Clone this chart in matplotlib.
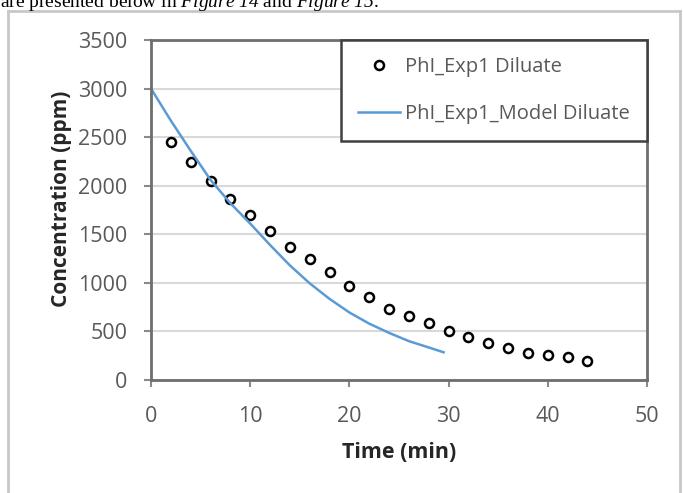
import matplotlib
matplotlib.use('Agg')
import matplotlib.pyplot as plt
from matplotlib.lines import Line2D

plt.rcParams['mathtext.fontset'] = 'custom'
plt.rcParams['mathtext.it'] = 'Liberation Serif:italic'
plt.rcParams['mathtext.rm'] = 'Liberation Serif:italic'

# measured diluate concentration, every 2 min
time_exp = [2, 4, 6, 8, 10, 12, 14, 16, 18, 20, 22, 24, 26, 28, 30,
            32, 34, 36, 38, 40, 42, 44]
conc_exp = [2450, 2240, 2050, 1860, 1700, 1530, 1370, 1250, 1110, 970, 850,
            730, 660, 590, 500, 445, 380, 330, 280, 260, 235, 195]

# model prediction for the same run
time_model = [0, 2, 4, 6, 8, 10, 12, 14, 16, 18, 20, 22, 24, 26, 28, 29.5]
conc_model = [3000, 2670, 2360, 2060, 1820, 1610, 1390, 1180, 995, 835, 695,
              580, 485, 400, 335, 285]

xticks = [0, 10, 20, 30, 40, 50]
yticks = [0, 500, 1000, 1500, 2000, 2500, 3000, 3500]

W, H = 683, 493
fig = plt.figure(figsize=(W / 100, H / 100), dpi=100)
fig.patch.set_facecolor('white')

# page border around the chart
border = dict(color='#c8c8c8', lw=2, transform=fig.transFigure)
fig.add_artist(Line2D([8 / W, 8 / W], [0, 1 - 11 / H], **border))
fig.add_artist(Line2D([8 / W, 680 / W], [1 - 11 / H, 1 - 11 / H], **border))
fig.add_artist(Line2D([680 / W, 680 / W], [0, 1 - 11 / H], **border))

# caption text running off the top of the page
fig.text(0 / W, 1 - 7 / H, 'are presented below in $\\mathit{Figure\\ 14}$ and $\\mathit{Figure\\ 15}$.',
         family='Liberation Serif', fontsize=14, va='baseline', ha='left', color='black')

ax = fig.add_axes([151 / W, 1 - 380 / H, 496 / W, 340 / H])
ax.set_xlim(0, 50)
ax.set_ylim(0, 3500)
ax.set_xticks(xticks)
ax.set_yticks(yticks)
ax.grid(axis='y', color='#d9d9d9', lw=1.5)
ax.set_axisbelow(True)

for s in ax.spines.values():
    s.set_color('#6e6e6e')
    s.set_linewidth(2)

ax.tick_params(direction='out', length=5, width=1.5, color='#8a8a8a',
               labelcolor='#595959', labelsize=15.5)
ax.tick_params(axis='y', pad=12)
ax.tick_params(axis='x', pad=14)
for lab in ax.get_xticklabels() + ax.get_yticklabels():
    lab.set_family('Open Sans')

ax.plot(time_exp, conc_exp, 'o', ms=6.5, mfc='white', mec='black', mew=1.8,
        label='PhI_Exp1 Diluate', clip_on=False)
ax.plot(time_model, conc_model, color='#5b9bd5', lw=1.8,
        label='PhI_Exp1_Model Diluate')

ax.set_xlabel('Time (min)', family='Open Sans', fontweight='bold', fontsize=15.5, color='#262626')
ax.set_ylabel('Concentration (ppm)', family='Open Sans', fontweight='bold', fontsize=15, color='#262626')
ax.xaxis.set_label_coords(0.5, -(452 - 380) / 340)
ax.yaxis.set_label_coords(-(151 - 61) / 496, (380 - 199) / 340)
ax.xaxis.label.set_va('center')
ax.yaxis.label.set_va('center')

leg = ax.legend(loc='upper right', bbox_to_anchor=(1, 1), borderaxespad=0,
                fancybox=False, framealpha=1, edgecolor='#404040',
                prop={'family': 'Open Sans', 'size': 14.5}, labelcolor='#595959',
                handlelength=2.1, handletextpad=0.25, labelspacing=1.35, borderpad=0.85)
leg.get_frame().set_linewidth(1.8)

fig.savefig('out.png', dpi=100)
